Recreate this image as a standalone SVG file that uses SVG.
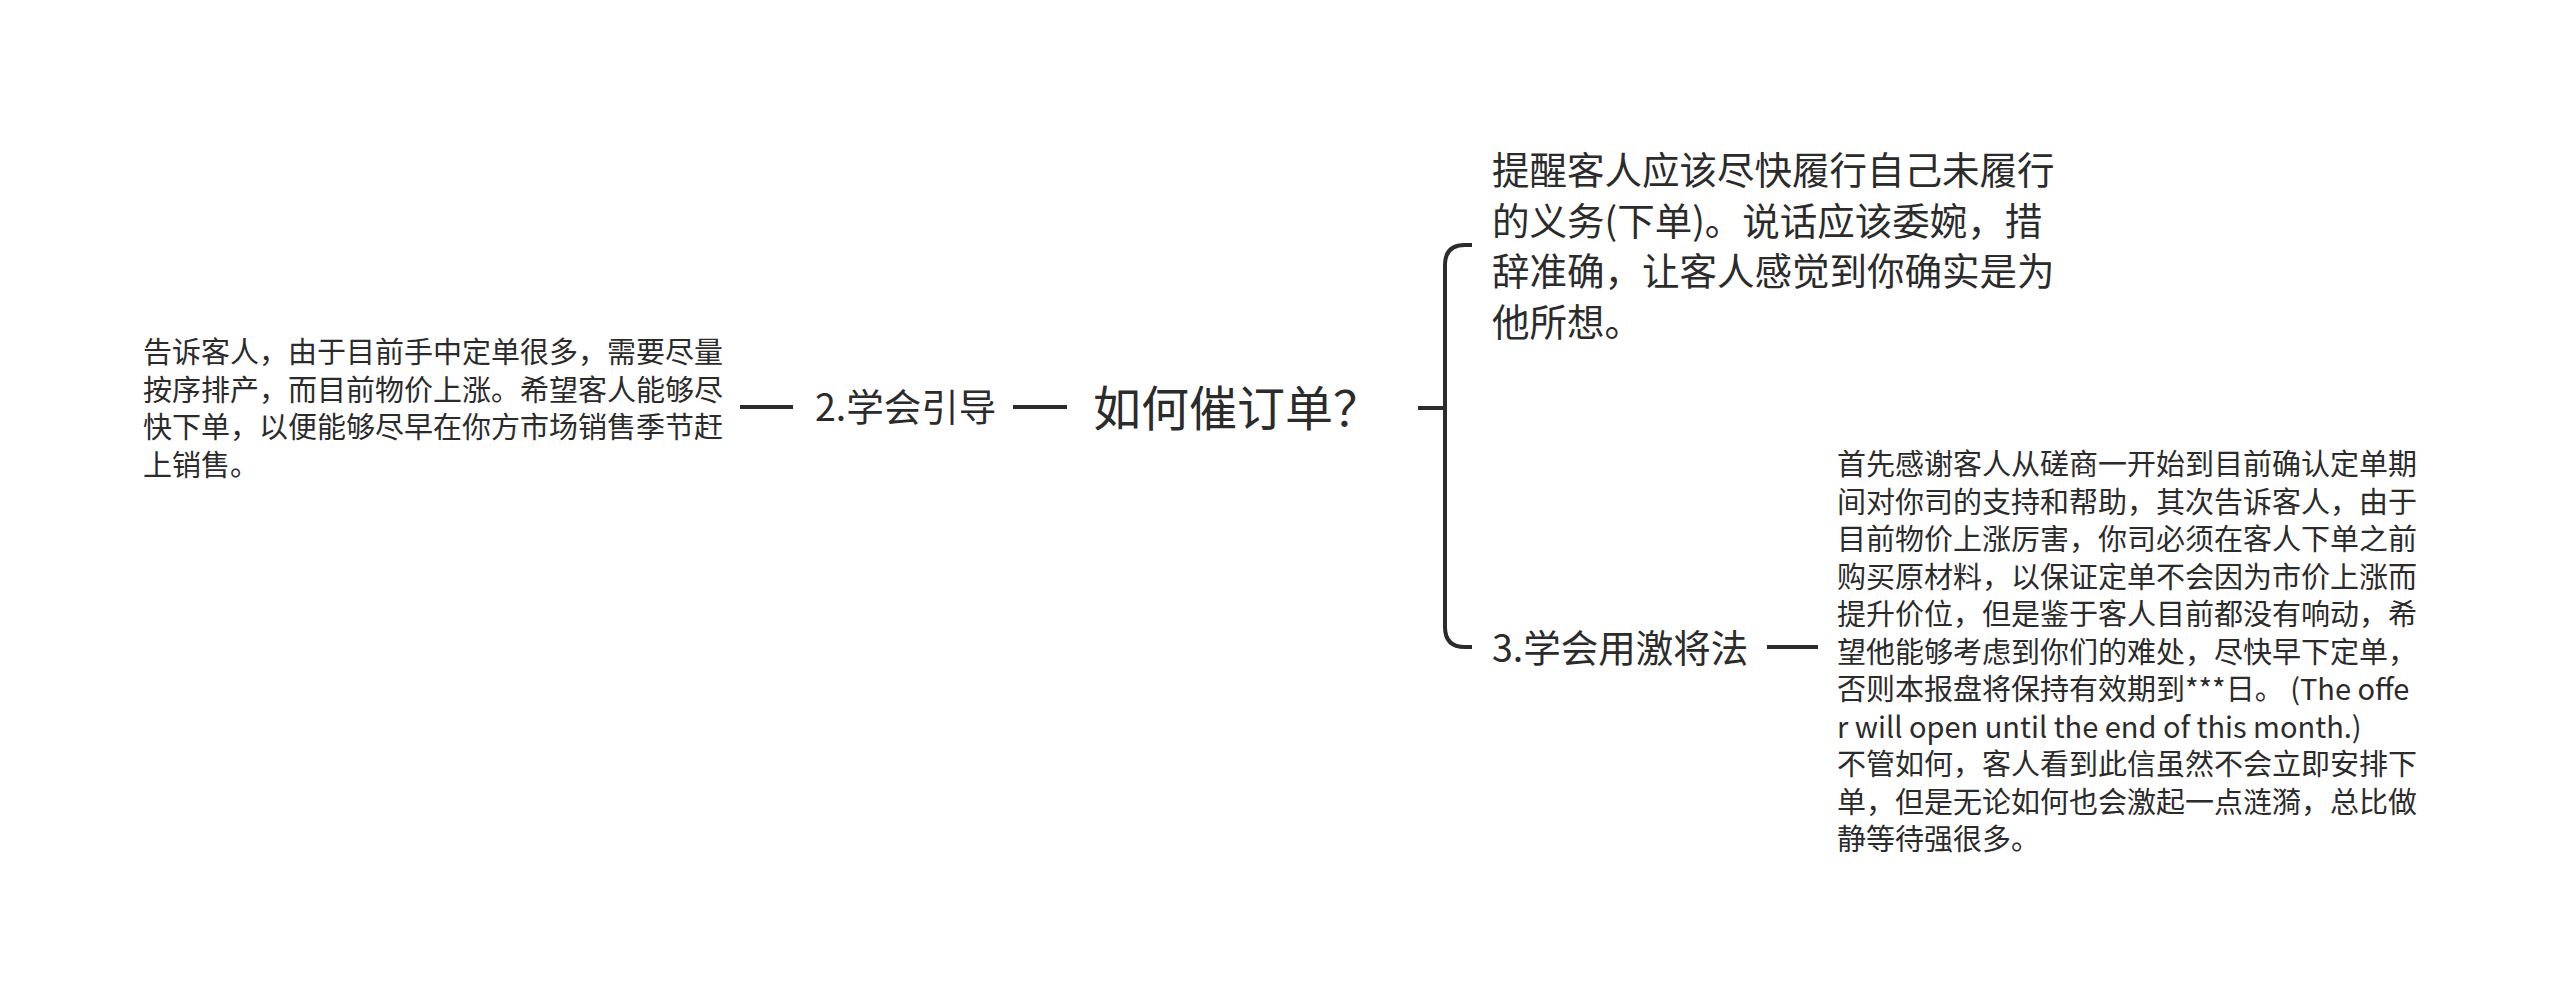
<svg xmlns="http://www.w3.org/2000/svg" width="2560" height="994" viewBox="0 0 2560 994">
<style>
.t{font-family:"Noto Sans CJK SC","Liberation Sans",sans-serif;fill:#2b2b2b}
.s{font-size:29px}
.m{font-size:37.5px}
.c{font-size:48px}
.ln{fill:none;stroke:#2b2b2b;stroke-width:4;stroke-linecap:butt}
</style>
<rect width="2560" height="994" fill="#ffffff"/>
<g id="connectors">
<line class="ln" x1="740" y1="407" x2="793" y2="407"/>
<line class="ln" x1="1013" y1="407" x2="1067" y2="407"/>
<line class="ln" x1="1418" y1="408" x2="1445" y2="408"/>
<path class="ln" d="M1472 245 H1465 Q1445 245 1445 265 V627 Q1445 647 1465 647 H1472"/>
<line class="ln" x1="1767" y1="647" x2="1818" y2="647"/>
</g>
<g id="root">
<text class="t c" x="1093" y="426">如何催订单？</text>
</g>
<g id="node-2">
<text class="t m" x="815" y="421">2.学会引导</text>
</g>
<g id="node-2-detail">
<text class="t s">
<tspan x="143" y="363">告诉客人，由于目前手中定单很多，需要尽量</tspan>
<tspan x="143" y="401">按序排产，而目前物价上涨。希望客人能够尽</tspan>
<tspan x="143" y="438">快下单，以便能够尽早在你方市场销售季节赶</tspan>
<tspan x="143" y="476">上销售。</tspan>
</text>
</g>
<g id="node-1">
<text class="t m">
<tspan x="1492" y="184">提醒客人应该尽快履行自己未履行</tspan>
<tspan x="1492" y="234.5">的义务(下单)。说话应该委婉，措</tspan>
<tspan x="1492" y="285">辞准确，让客人感觉到你确实是为</tspan>
<tspan x="1492" y="335.5">他所想。</tspan>
</text>
</g>
<g id="node-3">
<text class="t m" x="1492" y="662">3.学会用激将法</text>
</g>
<g id="node-3-detail">
<text class="t s">
<tspan x="1837" y="475">首先感谢客人从磋商一开始到目前确认定单期</tspan>
<tspan x="1837" y="512.5">间对你司的支持和帮助，其次告诉客人，由于</tspan>
<tspan x="1837" y="550">目前物价上涨厉害，你司必须在客人下单之前</tspan>
<tspan x="1837" y="587.5">购买原材料，以保证定单不会因为市价上涨而</tspan>
<tspan x="1837" y="625">提升价位，但是鉴于客人目前都没有响动，希</tspan>
<tspan x="1837" y="662.5">望他能够考虑到你们的难处，尽快早下定单，</tspan>
<tspan x="1837" y="700">否则本报盘将保持有效期到***日。 (The offe</tspan>
<tspan x="1837" y="737.5">r will open until the end of this month.)</tspan>
<tspan x="1837" y="775">不管如何，客人看到此信虽然不会立即安排下</tspan>
<tspan x="1837" y="812.5">单，但是无论如何也会激起一点涟漪，总比做</tspan>
<tspan x="1837" y="850">静等待强很多。</tspan>
</text>
</g>
</svg>
